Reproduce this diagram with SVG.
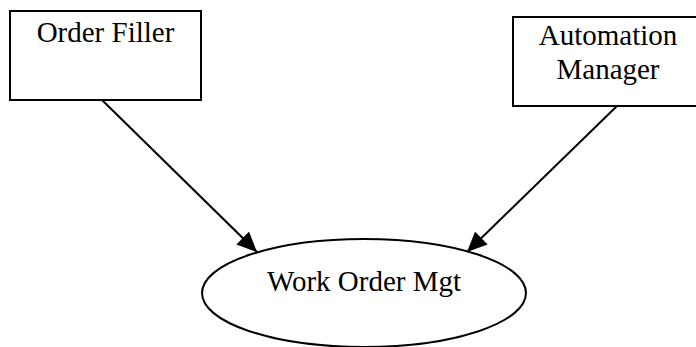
<svg xmlns="http://www.w3.org/2000/svg" width="696" height="347" viewBox="0 0 696 347">
<defs>
<style>
.box{fill:#fff;stroke:#000;stroke-width:2}
.lbl{font-family:"Liberation Serif","Times New Roman",serif;font-size:29px;fill:#000;text-anchor:middle}
.edge{stroke:#000;stroke-width:2;fill:none}
</style>
<marker id="ah" viewBox="0 0 20 18" refX="20" refY="9" markerWidth="20" markerHeight="18" orient="auto" markerUnits="userSpaceOnUse">
<path d="M0,0 L20,9 L0,18 Z" fill="#000"/>
</marker>
</defs>
<rect width="696" height="347" fill="#fff"/>
<g id="connectors">
<line class="edge" x1="102" y1="100" x2="257" y2="252" marker-end="url(#ah)"/>
<line class="edge" x1="617" y1="106" x2="467" y2="252" marker-end="url(#ah)"/>
</g>
<g id="order-filler">
<rect class="box" x="10" y="11" width="191" height="89"/>
<text class="lbl" x="105.5" y="42">Order Filler</text>
</g>
<g id="automation-manager">
<rect class="box" x="513" y="17" width="190" height="89"/>
<text class="lbl" x="608" y="45">Automation</text>
<text class="lbl" x="608" y="79">Manager</text>
</g>
<g id="work-order-mgt">
<ellipse class="box" cx="364" cy="293" rx="162" ry="54"/>
<text class="lbl" x="364" y="291">Work Order Mgt</text>
</g>
</svg>
